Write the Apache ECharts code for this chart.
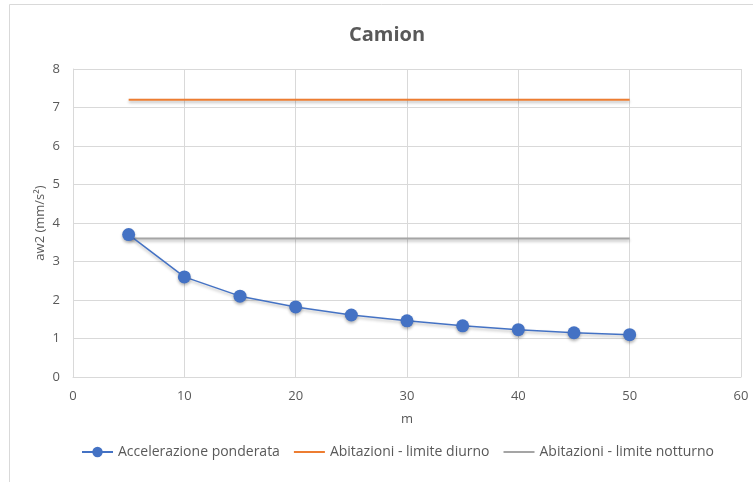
<!DOCTYPE html>
<html>
<head>
<meta charset="utf-8">
<script src="https://cdn.jsdelivr.net/npm/echarts@6/dist/echarts.min.js"></script>
<style>
  html, body { margin: 0; padding: 0; background: #fff; }
  #chart { width: 753px; height: 482px; }
</style>
</head>
<body>
<div id="chart"></div>
<script>
// Distance from the source (m)
const distances = [5, 10, 15, 20, 25, 30, 35, 40, 45, 50];
// Weighted acceleration aw2 (mm/s²)
const accelerazione = [3.7, 2.6, 2.1, 1.82, 1.61, 1.46, 1.33, 1.23, 1.15, 1.1];
// Residential limits, drawn across the measured range
const limiteX = [5, 50];
const limiteDiurno = [7.2, 7.2];
const limiteNotturno = [3.6, 3.6];

const FONT = '"Open Sans", sans-serif';
const TEXT = '#595959';

const chart = echarts.init(document.getElementById('chart'), null, { renderer: 'canvas' });

const lineShadow = {
  shadowColor: 'rgba(0,0,0,0.28)',
  shadowBlur: 3,
  shadowOffsetY: 2
};

chart.setOption({
  animation: false,
  backgroundColor: '#fff',
  graphic: [{
    type: 'rect',
    shape: { x: 9.5, y: 4.5, width: 760, height: 500 },
    style: { fill: 'none', stroke: '#d9d9d9', lineWidth: 1 },
    silent: true,
    z: -1
  }],
  title: {
    text: 'Camion',
    left: 344,
    top: 20,
    textStyle: { fontFamily: FONT, fontSize: 20, fontWeight: 'bold', color: TEXT }
  },
  grid: { left: 73, right: 12, top: 69, bottom: 105, containLabel: false },
  legend: {
    left: 76,
    top: 440,
    itemWidth: 31,
    itemHeight: 13,
    itemGap: 13,
    textStyle: { fontFamily: FONT, fontSize: 14, color: TEXT },
    data: [
      { name: 'Accelerazione ponderata' },
      { name: 'Abitazioni - limite diurno', itemStyle: { opacity: 0 } },
      { name: 'Abitazioni - limite notturno', itemStyle: { opacity: 0 } }
    ]
  },
  xAxis: {
    type: 'value',
    min: 0, max: 60, interval: 10,
    name: 'm',
    nameLocation: 'middle',
    nameGap: 36,
    nameMoveOverlap: false,
    nameTextStyle: { fontFamily: FONT, fontSize: 13, color: TEXT },
    axisLine: { show: true, lineStyle: { color: '#d9d9d9' } },
    axisTick: { show: false },
    axisLabel: { fontFamily: FONT, fontSize: 13, color: TEXT, margin: 13 },
    splitLine: { show: true, lineStyle: { color: '#d9d9d9', width: 1 } }
  },
  yAxis: {
    type: 'value',
    min: 0, max: 8, interval: 1,
    name: 'aw2 (mm/s²)',
    nameLocation: 'middle',
    nameGap: 26,
    nameMoveOverlap: false,
    nameTextStyle: { fontFamily: FONT, fontSize: 13, color: TEXT },
    axisLine: { show: true, lineStyle: { color: '#d9d9d9' } },
    axisTick: { show: false },
    axisLabel: { fontFamily: FONT, fontSize: 13, color: TEXT, margin: 13 },
    splitLine: { show: true, lineStyle: { color: '#d9d9d9', width: 1 } }
  },
  series: [
    {
      name: 'Accelerazione ponderata',
      type: 'line',
      data: distances.map((d, i) => [d, accelerazione[i]]),
      symbol: 'circle',
      symbolSize: 13,
      itemStyle: Object.assign({ color: '#4472C4' }, lineShadow),
      lineStyle: Object.assign({ color: '#4472C4', width: 1.5 }, lineShadow),
      z: 4
    },
    {
      name: 'Abitazioni - limite diurno',
      type: 'line',
      data: limiteX.map((d, i) => [d, limiteDiurno[i]]),
      symbol: 'none',
      itemStyle: { color: '#ED7D31' },
      lineStyle: Object.assign({ color: '#ED7D31', width: 2 }, lineShadow),
      z: 3
    },
    {
      name: 'Abitazioni - limite notturno',
      type: 'line',
      data: limiteX.map((d, i) => [d, limiteNotturno[i]]),
      symbol: 'none',
      itemStyle: { color: '#A5A5A5' },
      lineStyle: Object.assign({ color: '#A5A5A5', width: 2 }, lineShadow),
      z: 3
    }
  ]
});
</script>
</body>
</html>
